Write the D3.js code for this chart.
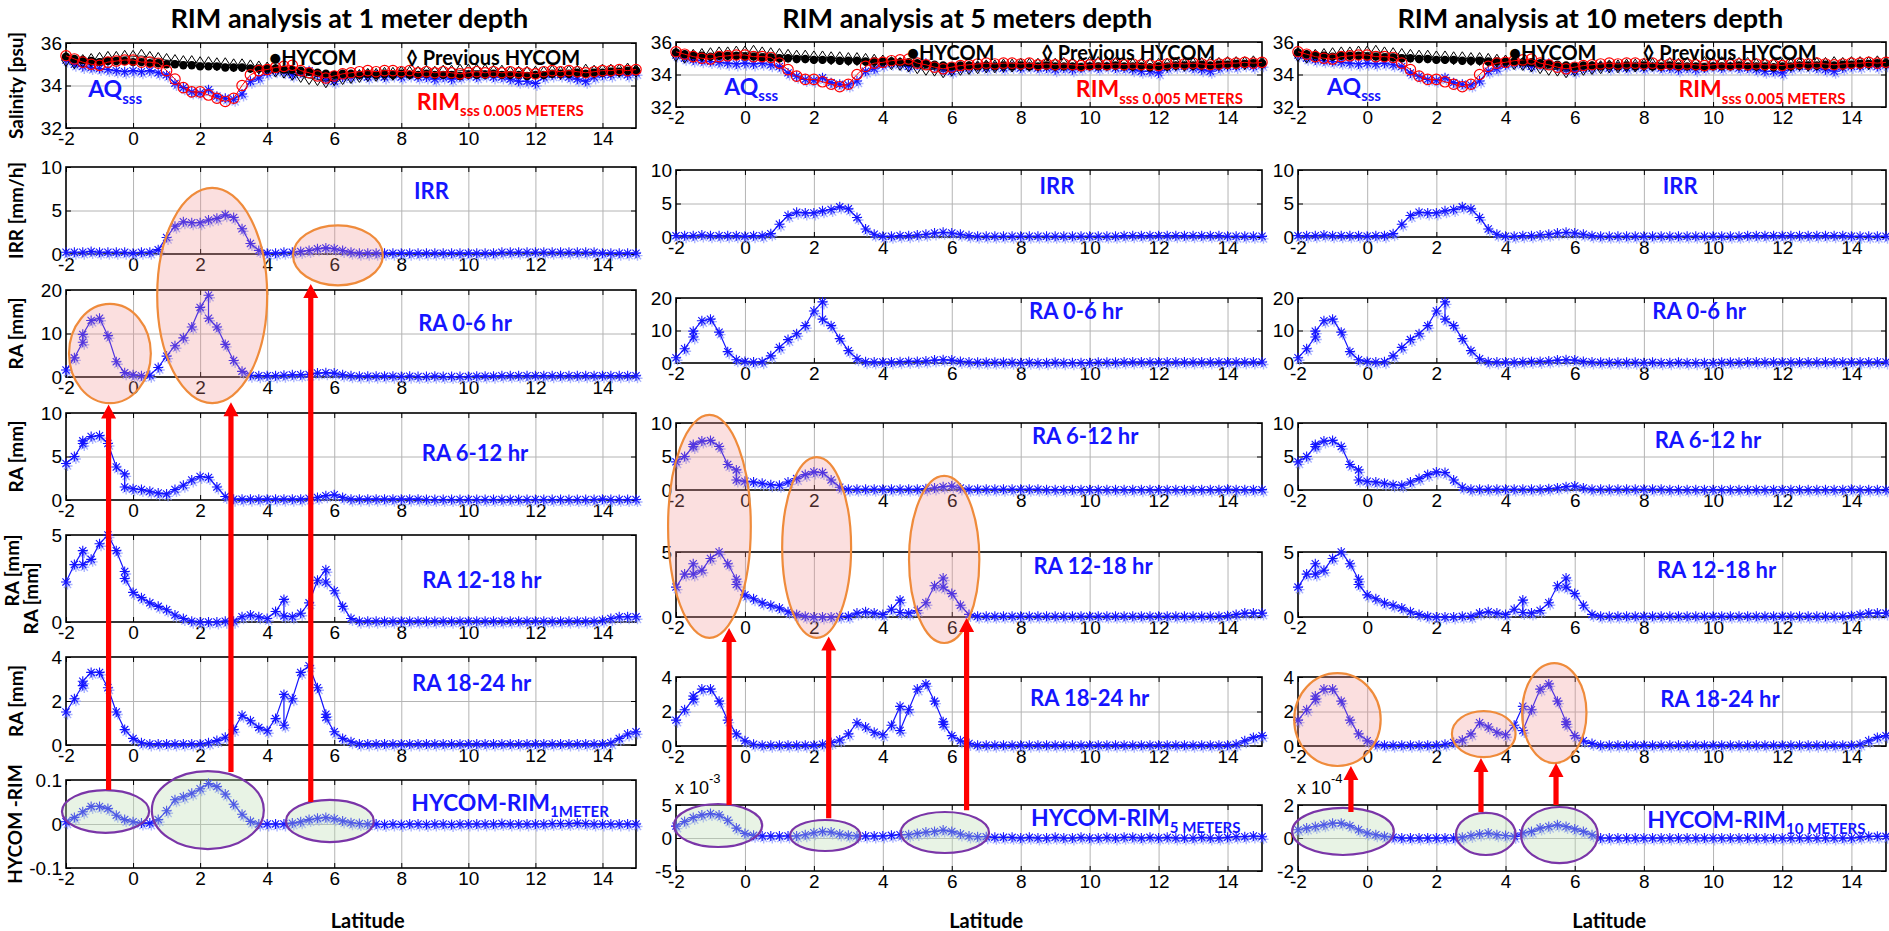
<!DOCTYPE html>
<html>
<head>
<meta charset="utf-8">
<script src="https://cdn.jsdelivr.net/npm/d3@7"></script>
<style>
  body { margin: 0; background: #fff; }
  svg { display: block; }
</style>
</head>
<body>
<svg id="fig" width="1889" height="931"></svg>
<script>
// ---------------------------------------------------------------------------
// Along-track latitude samples shared by every series
const LAT = [-2, -1.75, -1.5, -1.25, -1, -0.75, -0.5, -0.25, 0, 0.25, 0.5, 0.75, 1, 1.25, 1.5, 1.75,
  2, 2.25, 2.5, 2.75, 3, 3.25, 3.5, 3.75, 4, 4.25, 4.5, 4.75, 5, 5.25, 5.5, 5.75, 6, 6.25, 6.5, 6.75,
  7, 7.25, 7.5, 7.75, 8, 8.25, 8.5, 8.75, 9, 9.25, 9.5, 9.75, 10, 10.25, 10.5, 10.75, 11, 11.25, 11.5,
  11.75, 12, 12.25, 12.5, 12.75, 13, 13.25, 13.5, 13.75, 14, 14.25, 14.5, 14.75, 15];

const X_TICKS = [-2, 0, 2, 4, 6, 8, 10, 12, 14];

// Sea-surface salinity [psu]
const AQ_SSS = [35.2, 35.0, 34.9, 34.85, 34.8, 34.75, 34.7, 34.65, 34.7, 34.65,
  34.7, 34.6, 34.5, 34.1, 33.9, 33.7, 33.65, 33.8, 33.5, 33.4,
  33.35, 33.6, 34.2, 34.35, 34.6, 34.7, 34.65, 34.5, 34.6, 34.7,
  34.5, 34.3, 34.2, 34.4, 34.4, 34.5, 34.4, 34.5, 34.4, 34.5,
  34.4, 34.5, 34.4, 34.4, 34.3, 34.4, 34.3, 34.4, 34.5, 34.4,
  34.5, 34.4, 34.4, 34.3, 34.2, 34.2, 34.1, 34.4, 34.5, 34.5,
  34.4, 34.3, 34.2, 34.4, 34.5, 34.5, 34.6, 34.5, 34.6];
const RIM_SSS = [35.4, 35.25, 35.1, 35.0, 34.95, 35.1, 35.15, 35.2, 35.2, 35.1,
  35.1, 35.05, 34.7, 34.3, 33.9, 33.7, 33.7, 33.55, 33.4, 33.25,
  33.4, 34.0, 34.5, 34.7, 34.75, 34.85, 34.9, 34.95, 34.7, 34.6,
  34.45, 34.35, 34.45, 34.55, 34.6, 34.65, 34.7, 34.65, 34.7, 34.7,
  34.65, 34.7, 34.6, 34.65, 34.6, 34.65, 34.6, 34.55, 34.6, 34.65,
  34.6, 34.65, 34.6, 34.65, 34.6, 34.6, 34.55, 34.65, 34.7, 34.65,
  34.7, 34.65, 34.6, 34.65, 34.7, 34.7, 34.75, 34.7, 34.75];
const HYCOM_SSS = [35.35, 35.25, 35.2, 35.15, 35.1, 35.15, 35.15, 35.15, 35.1, 35.1,
  35.05, 35.05, 35.0, 35.0, 34.95, 34.95, 34.9, 34.9, 34.9, 34.85,
  34.85, 34.85, 34.8, 34.8, 34.8, 34.8, 34.75, 34.75, 34.7, 34.65,
  34.6, 34.55, 34.5, 34.55, 34.55, 34.5, 34.55, 34.5, 34.55, 34.5,
  34.55, 34.5, 34.5, 34.55, 34.5, 34.5, 34.5, 34.45, 34.5, 34.5,
  34.5, 34.55, 34.5, 34.5, 34.5, 34.45, 34.5, 34.5, 34.55, 34.55,
  34.55, 34.6, 34.55, 34.6, 34.6, 34.65, 34.65, 34.7, 34.7];
const PREV_HYCOM_SSS = [35.2, 35.1, 35.15, 35.2, 35.25, 35.3, 35.3, 35.35, 35.35, 35.4,
  35.3, 35.25, 35.2, 35.15, 35.1, 35.1, 35.05, 35.05, 35.0, 35.0,
  34.95, 34.95, 34.9, 34.85, 34.8, 34.7, 34.65, 34.55, 34.45, 34.35,
  34.3, 34.2, 34.3, 34.35, 34.4, 34.45, 34.5, 34.5, 34.55, 34.55,
  34.6, 34.6, 34.6, 34.65, 34.6, 34.65, 34.65, 34.7, 34.7, 34.7,
  34.7, 34.65, 34.65, 34.6, 34.6, 34.6, 34.6, 34.6, 34.65, 34.6,
  34.65, 34.65, 34.7, 34.65, 34.7, 34.7, 34.7, 34.75, 34.7];

// Instantaneous rain rate [mm/h]
const IRR = [0.2, 0.2, 0.2, 0.3, 0.2, 0.2, 0.2, 0.2, 0.1, 0.2,
  0.2, 0.5, 1.9, 3.2, 3.7, 3.6, 3.6, 3.9, 4.1, 4.5,
  4.2, 2.9, 1.2, 0.4, 0.1, 0.1, 0.2, 0.2, 0.3, 0.4,
  0.6, 0.7, 0.6, 0.4, 0.2, 0.1, 0.1, 0.1, 0.1, 0.1,
  0.1, 0.1, 0.1, 0.1, 0.1, 0.1, 0.1, 0.1, 0.1, 0.1,
  0.1, 0.1, 0.2, 0.2, 0.2, 0.2, 0.2, 0.2, 0.2, 0.2,
  0.2, 0.2, 0.2, 0.2, 0.1, 0.1, 0.1, 0.1, 0.1];

// Rain accumulation [mm] over the 24 h before the pass
const RA_0_6 = [1.6, 4.4, 8.0, 13.0, 13.5, 9.5, 3.5, 1.0, 0.5, 0.3,
  0.4, 2.2, 4.8, 7.2, 9.0, 11.5, 16.0, 18.8, 11.5, 7.5,
  3.8, 1.3, 0.4, 0.3, 0.3, 0.3, 0.4, 0.5, 0.5, 0.6,
  0.9, 1.0, 0.9, 0.5, 0.3, 0.2, 0.2, 0.2, 0.2, 0.2,
  0.1, 0.2, 0.1, 0.1, 0.2, 0.1, 0.1, 0.1, 0.1, 0.2,
  0.2, 0.2, 0.3, 0.3, 0.3, 0.3, 0.3, 0.3, 0.3, 0.3,
  0.3, 0.3, 0.3, 0.3, 0.3, 0.3, 0.3, 0.3, 0.3];
const RA_0_6_REPEAT = [[-1.5, 9.8], [2.25, 13.5]];

const RA_6_12 = [4.2, 5.0, 6.5, 7.3, 7.4, 6.5, 3.8, 3.0, 1.3, 1.2,
  1.0, 0.8, 0.7, 1.2, 1.7, 2.3, 2.7, 2.6, 1.5, 0.4,
  0.1, 0.1, 0.1, 0.1, 0.1, 0.1, 0.1, 0.1, 0.1, 0.2,
  0.3, 0.5, 0.6, 0.3, 0.1, 0.1, 0.1, 0.1, 0.1, 0.1,
  0.1, 0.1, 0.1, 0.05, 0.05, 0.05, 0.05, 0.05, 0.05, 0.05,
  0.05, 0.05, 0.05, 0.05, 0.05, 0.05, 0.05, 0.05, 0.05, 0.05,
  0.05, 0.05, 0.05, 0.05, 0.1, 0.05, 0.05, 0.05, 0.05];
const RA_6_12_REPEAT = [[-1.5, 6.8], [-0.25, 1.5]];

const RA_12_18 = [2.3, 3.3, 4.1, 3.6, 4.5, 5.0, 4.1, 2.9, 1.7, 1.4,
  1.1, 0.9, 0.7, 0.4, 0.2, 0.05, 0.0, 0.0, 0.0, 0.05,
  0.05, 0.3, 0.4, 0.3, 0.2, 0.6, 1.3, 0.3, 0.5, 1.1,
  2.4, 3.0, 1.8, 0.9, 0.2, 0.05, 0.05, 0.05, 0.05, 0.05,
  0.05, 0.05, 0.05, 0.05, 0.05, 0.05, 0.05, 0.05, 0.05, 0.05,
  0.05, 0.05, 0.05, 0.05, 0.05, 0.05, 0.05, 0.05, 0.05, 0.05,
  0.05, 0.05, 0.05, 0.05, 0.1, 0.2, 0.3, 0.3, 0.3];
const RA_12_18_REPEAT = [[-1.5, 3.3], [-0.25, 2.5], [4.5, 0.35], [5.75, 2.3]];

const RA_18_24 = [1.5, 2.1, 2.7, 3.3, 3.3, 2.6, 1.5, 0.7, 0.3, 0.1,
  0.05, 0.05, 0.05, 0.05, 0.05, 0.05, 0.05, 0.1, 0.2, 0.35,
  0.7, 1.35, 1.1, 0.8, 0.65, 1.2, 2.3, 2.1, 3.3, 3.6,
  2.6, 1.4, 0.6, 0.3, 0.15, 0.05, 0.05, 0.05, 0.05, 0.05,
  0.05, 0.05, 0.05, 0.05, 0.05, 0.05, 0.05, 0.05, 0.05, 0.05,
  0.05, 0.05, 0.05, 0.05, 0.05, 0.05, 0.05, 0.05, 0.05, 0.05,
  0.05, 0.05, 0.05, 0.05, 0.05, 0.1, 0.3, 0.5, 0.6];
const RA_18_24_REPEAT = [[-1.5, 2.9], [4.5, 0.9], [5.75, 1.25]];

// HYCOM minus RIM salinity at each depth (values in units of the axis multiplier)
const DIFF_1M = [0.005, 0.015, 0.028, 0.04, 0.04, 0.035, 0.02, 0.01, 0.005, 0.002,
  0.002, 0.01, 0.03, 0.055, 0.062, 0.07, 0.08, 0.092, 0.085, 0.068,
  0.045, 0.022, 0.006, 0.0, 0.0, 0.0, 0.0, 0.002, 0.005, 0.01,
  0.013, 0.015, 0.012, 0.007, 0.003, 0.001, 0.0, 0.0, -0.001, 0.0,
  -0.001, 0.0, 0.0, -0.001, 0.0, 0.0, -0.001, 0.0, 0.0, 0.0,
  0.0, 0.0, 0.001, 0.0, 0.0, 0.0, 0.0, 0.0, 0.001, 0.001,
  0.001, 0.002, 0.001, 0.0, 0.0, 0.0, 0.0, 0.0, 0.0];
const DIFF_5M = [1.8, 2.5, 3.1, 3.5, 3.7, 3.5, 2.7, 1.5, 0.7, 0.4,
  0.3, 0.3, 0.3, 0.3, 0.3, 0.5, 0.8, 1.0, 0.9, 0.6,
  0.4, 0.3, 0.3, 0.3, 0.3, 0.4, 0.5, 0.5, 0.7, 0.9,
  1.0, 1.2, 1.0, 0.6, 0.3, 0.2, 0.2, 0.1, 0.1, 0.1,
  0.0, 0.1, 0.0, 0.0, 0.1, 0.0, 0.0, 0.1, 0.0, 0.0,
  0.1, 0.0, 0.1, 0.1, 0.0, 0.1, 0.0, 0.1, 0.0, 0.0,
  0.0, 0.1, 0.0, 0.0, 0.1, 0.2, 0.2, 0.3, 0.2];
const DIFF_10M = [0.5, 0.6, 0.7, 0.8, 0.9, 0.9, 0.75, 0.5, 0.3, 0.2,
  0.1, 0.05, 0.0, 0.0, 0.0, 0.0, 0.0, 0.0, 0.0, 0.05,
  0.15, 0.25, 0.3, 0.2, 0.15, 0.1, 0.3, 0.4, 0.6, 0.7,
  0.8, 0.7, 0.55, 0.4, 0.2, 0.0, 0.0, 0.0, 0.0, 0.0,
  0.0, 0.0, 0.0, 0.0, 0.0, 0.0, 0.0, 0.0, 0.0, 0.0,
  0.0, 0.0, 0.0, 0.0, 0.0, 0.0, 0.0, 0.0, 0.0, 0.0,
  0.0, 0.0, 0.0, 0.0, 0.0, 0.05, 0.1, 0.1, 0.1];

const COLUMN_TITLES = ["RIM analysis at 1 meter depth", "RIM analysis at 5 meters depth", "RIM analysis at 10 meters depth"];
const DIFF_SERIES = [DIFF_1M, DIFF_5M, DIFF_10M];
const DIFF_DOMAINS = [[-0.1, 0.1], [-5, 5], [-2, 2]];
const DIFF_TICKS = [[-0.1, 0, 0.1], [-5, 0, 5], [-2, 0, 2]];
const DIFF_EXPONENTS = [null, "-3", "-4"];
const DIFF_SUBSCRIPTS = ["1METER", "5 METERS", "10 METERS"];

// ---------------------------------------------------------------------------
// Page layout (pixel frames of each column and of its seven stacked axes)
const LAYOUT = [
  { x0: 66, x1: 636, rows: [[43, 128], [167, 254], [290, 377], [413, 500], [535, 622], [657, 745], [780, 868]] },
  { x0: 676, x1: 1262, rows: [[42, 107], [170, 237], [298, 363], [423, 490], [552, 617], [677, 746], [805, 871]] },
  { x0: 1298, x1: 1886, rows: [[42, 107], [170, 237], [298, 363], [423, 490], [552, 617], [677, 746], [805, 871]] }
];

const BLUE = "#1515ff";
const LABEL_FONT = "Lato, 'Open Sans', sans-serif";
const TICK_FONT = "'Liberation Sans', Arial, sans-serif";
const TICK_SIZE = 19;

const svg = d3.select("#fig");

function track(vals, repeats) {
  const pts = [];
  LAT.forEach((lat, i) => {
    pts.push({ lat, v: vals[i] });
    (repeats || []).filter(r => r[0] === lat).forEach(r => pts.push({ lat: r[0], v: r[1] }));
  });
  return pts;
}

function starPath(s) {
  const d = s * 0.72;
  return `M${-s},0L${s},0M0,${-s}L0,${s}M${-d},${-d}L${d},${d}M${-d},${d}L${d},${-d}`;
}

// Rain panels share a common description
const PANELS = [
  null, // salinity handled separately
  { name: "IRR", domain: [0, 10], ticks: [0, 5, 10], series: track(IRR) },
  { name: "RA 0-6 hr", domain: [0, 20], ticks: [0, 10, 20], series: track(RA_0_6, RA_0_6_REPEAT) },
  { name: "RA 6-12 hr", domain: [0, 10], ticks: [0, 5, 10], series: track(RA_6_12, RA_6_12_REPEAT) },
  { name: "RA 12-18 hr", domain: [0, 5], ticks: [0, 5], series: track(RA_12_18, RA_12_18_REPEAT) },
  { name: "RA 18-24 hr", domain: [0, 4], ticks: [0, 2, 4], series: track(RA_18_24, RA_18_24_REPEAT) },
  null  // difference panel, per column
];

// Panel label anchor (latitude, value) per column and row
const LABEL_POS = [
  [null, [8.9, 7.2], [9.9, 12.4], [10.2, 5.4], [10.4, 2.4], [10.1, 2.8], [8.3, 0.048]],
  [null, [9.05, 7.6], [9.6, 16.0], [9.87, 8.0], [10.1, 3.9], [10.0, 2.8], [8.3, 3.0]],
  [null, [9.05, 7.6], [9.6, 16.0], [9.85, 7.4], [10.1, 3.6], [10.2, 2.7], [8.1, 1.1]]
];

// Salinity legend anchors per column: [HYCOM lat, Previous lat, legend value, AQ lat, AQ value, RIM lat, RIM value]
const SSS_TEXT = [
  [4.06, 8.15, 35.3, -1.34, 33.45, 8.46, 32.85],
  [4.7, 8.6, 35.3, -0.6, 32.75, 9.6, 32.6],
  [4.1, 7.97, 35.3, -1.16, 32.75, 9.0, 32.6]
];

// Latitude at which the column title and the x-axis title are centred
const TITLE_LAT = 6.45;
const XLABEL_LAT = 7.0;

const scales = LAYOUT.map(() => []);

// axis helper: keep only the tick lines
function linesOnly(a, color, width) {
  a.select(".domain").remove();
  a.selectAll("text").remove();
  a.selectAll("line").attr("stroke", color).attr("stroke-width", width);
}

function frame(g, x, y, ticksY) {
  const [r0, r1] = y.range();
  const top = Math.min(r0, r1), bottom = Math.max(r0, r1);
  const [l, r] = x.range();
  // grid
  g.append("g").attr("transform", `translate(0,${bottom})`)
    .call(d3.axisBottom(x).tickValues(X_TICKS.filter(t => t > -2)).tickSizeInner(-(bottom - top)).tickSizeOuter(0))
    .call(a => linesOnly(a, "#b4b4b4", 1));
  g.append("g").attr("transform", `translate(${l},0)`)
    .call(d3.axisLeft(y).tickValues(ticksY.filter(t => y(t) > top + 1 && y(t) < bottom - 1)).tickSizeInner(-(r - l)).tickSizeOuter(0))
    .call(a => linesOnly(a, "#b4b4b4", 1));
  // inward ticks with labels
  const bx = g.append("g").attr("transform", `translate(0,${bottom})`)
    .call(d3.axisBottom(x).tickValues(X_TICKS).tickSizeInner(-5).tickSizeOuter(0).tickPadding(4).tickFormat(d => String(d)));
  bx.select(".domain").remove();
  bx.selectAll("text").attr("font-family", TICK_FONT).attr("font-size", TICK_SIZE).attr("fill", "#000");
  bx.selectAll("line").attr("stroke", "#000");
  g.append("g").attr("transform", `translate(0,${top})`)
    .call(d3.axisTop(x).tickValues(X_TICKS).tickSizeInner(-5).tickSizeOuter(0))
    .call(a => linesOnly(a, "#000", 1));
  const ly = g.append("g").attr("transform", `translate(${l},0)`)
    .call(d3.axisLeft(y).tickValues(ticksY).tickSizeInner(-5).tickSizeOuter(0).tickPadding(4).tickFormat(d => String(d)));
  ly.select(".domain").remove();
  ly.selectAll("text").attr("font-family", TICK_FONT).attr("font-size", TICK_SIZE).attr("fill", "#000");
  ly.selectAll("line").attr("stroke", "#000");
  g.append("g").attr("transform", `translate(${r},0)`)
    .call(d3.axisRight(y).tickValues(ticksY).tickSizeInner(-5).tickSizeOuter(0))
    .call(a => linesOnly(a, "#000", 1));
  g.append("rect").attr("x", l).attr("y", top).attr("width", r - l).attr("height", bottom - top)
    .attr("fill", "none").attr("stroke", "#000").attr("stroke-width", 1.6);
}

function starSeries(g, x, y, pts, size) {
  const line = d3.line().x(p => x(p.lat)).y(p => y(p.v));
  // faint echo of each marker
  g.append("g").selectAll("path").data(pts).join("path")
    .attr("d", starPath(size))
    .attr("transform", p => `translate(${x(p.lat) + 1.5},${y(p.v) + 2.5})`)
    .attr("stroke", "#8c9aff").attr("stroke-width", 1.4).attr("fill", "none").attr("opacity", 0.75);
  g.append("path").attr("d", line(pts)).attr("fill", "none").attr("stroke", BLUE).attr("stroke-width", 1.2);
  g.append("g").selectAll("path").data(pts).join("path")
    .attr("d", starPath(size))
    .attr("transform", p => `translate(${x(p.lat)},${y(p.v)})`)
    .attr("stroke", BLUE).attr("stroke-width", 1.1).attr("fill", "none");
}

function subText(g, xpos, ypos, main, sub, color, mainSize, subSize) {
  const t = g.append("text").attr("x", xpos).attr("y", ypos)
    .attr("font-family", LABEL_FONT).attr("font-weight", 700).attr("fill", color)
    .attr("font-size", mainSize).text(main);
  if (sub) t.append("tspan").attr("font-size", subSize).attr("dy", mainSize * 0.28).text(sub);
  return t;
}

LAYOUT.forEach((col, ci) => {
  const g = svg.append("g");
  const x = d3.scaleLinear().domain([-2, 15]).range([col.x0, col.x1]);

  // column title
  g.append("text").attr("x", x(TITLE_LAT)).attr("y", 28)
    .attr("text-anchor", "middle").attr("font-family", LABEL_FONT).attr("font-weight", 700)
    .attr("font-size", 27).attr("fill", "#000").text(COLUMN_TITLES[ci]);

  col.rows.forEach((rw, ri) => {
    let domain, ticks;
    if (ri === 0) { domain = [32, 36]; ticks = [32, 34, 36]; }
    else if (ri === 6) { domain = DIFF_DOMAINS[ci]; ticks = DIFF_TICKS[ci]; }
    else { domain = PANELS[ri].domain; ticks = PANELS[ri].ticks; }
    const y = d3.scaleLinear().domain(domain).range([rw[1], rw[0]]);
    scales[ci][ri] = { x, y };
    frame(g, x, y, ticks);

    if (ri === 0) {
      // salinity products
      const aq = track(AQ_SSS), rim = track(RIM_SSS), hy = track(HYCOM_SSS), prev = track(PREV_HYCOM_SSS);
      starSeries(g, x, y, aq, 5);
      const line = d3.line().x(p => x(p.lat)).y(p => y(p.v));
      g.append("path").attr("d", line(prev)).attr("fill", "none").attr("stroke", "#000").attr("stroke-width", 0.8);
      g.append("g").selectAll("path").data(prev).join("path")
        .attr("d", "M0,-6.5L4.2,0L0,6.5L-4.2,0Z")
        .attr("transform", p => `translate(${x(p.lat)},${y(p.v)})`)
        .attr("fill", "none").attr("stroke", "#000").attr("stroke-width", 1);
      g.append("path").attr("d", line(hy)).attr("fill", "none").attr("stroke", "#000").attr("stroke-width", 1);
      g.append("g").selectAll("circle").data(hy).join("circle")
        .attr("cx", p => x(p.lat)).attr("cy", p => y(p.v)).attr("r", 4.2).attr("fill", "#000");
      g.append("path").attr("d", line(rim)).attr("fill", "none").attr("stroke", "#ff0000").attr("stroke-width", 1);
      g.append("g").selectAll("circle").data(rim).join("circle")
        .attr("cx", p => x(p.lat)).attr("cy", p => y(p.v)).attr("r", 5.2)
        .attr("fill", "none").attr("stroke", "#ff0000").attr("stroke-width", 1.2);

      const s = SSS_TEXT[ci];
      g.append("text").attr("x", x(s[0])).attr("y", y(s[2]) + 7)
        .attr("font-family", LABEL_FONT).attr("font-weight", 700).attr("font-size", 20).attr("fill", "#000")
        .text("\u25CFHYCOM");
      g.append("text").attr("x", x(s[1])).attr("y", y(s[2]) + 7)
        .attr("font-family", LABEL_FONT).attr("font-weight", 700).attr("font-size", 20).attr("fill", "#000")
        .text("\u25CA Previous HYCOM");
      subText(g, x(s[3]), y(s[4]), "AQ", "sss", BLUE, 23, 15);
      subText(g, x(s[5]), y(s[6]), "RIM", "sss 0.005 METERS", "#ff0000", 23, 15);
    } else if (ri === 6) {
      starSeries(g, x, y, track(DIFF_SERIES[ci]), 5);
      const lp = LABEL_POS[ci][ri];
      subText(g, x(lp[0]), y(lp[1]) + 8, "HYCOM-RIM", DIFF_SUBSCRIPTS[ci], BLUE, 23, 15);
      if (DIFF_EXPONENTS[ci]) {
        const t = g.append("text").attr("x", col.x0 - 1).attr("y", rw[0] - 11)
          .attr("font-family", TICK_FONT).attr("font-size", 18).attr("fill", "#000").text("x 10");
        t.append("tspan").attr("font-size", 13).attr("dy", -11).text(DIFF_EXPONENTS[ci]);
      }
    } else {
      starSeries(g, x, y, PANELS[ri].series, 5);
      const lp = LABEL_POS[ci][ri];
      g.append("text").attr("x", x(lp[0])).attr("y", y(lp[1]) + 8).attr("text-anchor", "middle")
        .attr("font-family", LABEL_FONT).attr("font-weight", 700).attr("font-size", 22).attr("fill", BLUE)
        .text(PANELS[ri].name);
    }
  });

  g.append("text").attr("x", x(XLABEL_LAT)).attr("y", 928).attr("text-anchor", "middle")
    .attr("font-family", LABEL_FONT).attr("font-weight", 700).attr("font-size", 20).attr("fill", "#000")
    .text("Latitude");
});

// axis titles on the first column
const YLABELS = [
  { text: "Salinity [psu]", x: 16, row: 0 },
  { text: "IRR [mm/h]", x: 16, row: 1 },
  { text: "RA [mm]", x: 16, row: 2 },
  { text: "RA [mm]", x: 16, row: 3 },
  { text: "RA [mm]", x: 12, row: 4, shift: -8 },
  { text: "RA [mm]", x: 31, row: 4, shift: 20 },
  { text: "RA [mm]", x: 16, row: 5 },
  { text: "HYCOM -RIM", x: 15, row: 6 }
];
YLABELS.forEach(lb => {
  const rw = LAYOUT[0].rows[lb.row];
  const cy = (rw[0] + rw[1]) / 2 + (lb.shift || 0);
  svg.append("text").attr("transform", `translate(${lb.x},${cy}) rotate(-90)`)
    .attr("text-anchor", "middle").attr("dy", "0.35em")
    .attr("font-family", LABEL_FONT).attr("font-weight", 700).attr("font-size", 19).attr("fill", "#000")
    .text(lb.text);
});

// ---------------------------------------------------------------------------
// Highlighted rain events and the matching salinity differences
// [column, centre latitude, latitude half-width, [row, value] top edge, [row, value] bottom edge]
const RAIN_RINGS = [
  [0, 6.11, 1.34, [1, 3.3], [1, -3.6]],
  [0, 2.36, 1.64, [1, 7.6], [2, -6.0]],
  [0, -0.69, 1.22, [2, 16.8], [2, -6.0]],
  [1, -1.03, 1.2, [3, 11.2], [4, -1.6]],
  [1, 2.08, 1.0, [3, 4.9], [4, -1.6]],
  [1, 5.78, 1.02, [3, 2.1], [4, -2.0]],
  [2, -0.86, 1.25, [5, 4.23], [5, -1.16]],
  [2, 3.37, 0.92, [5, 2.03], [5, -0.64]],
  [2, 5.41, 0.93, [5, 4.81], [5, -0.99]]
];
const DIFF_RINGS = [
  [0, -0.82, 1.30, [6, 0.077], [6, -0.02]],
  [0, 2.23, 1.67, [6, 0.12], [6, -0.057]],
  [0, 5.87, 1.31, [6, 0.055], [6, -0.041]],
  [1, -0.78, 1.28, [6, 5.15], [6, -1.36]],
  [1, 2.33, 1.02, [6, 2.73], [6, -1.97]],
  [1, 5.8, 1.28, [6, 3.94], [6, -2.27]],
  [2, -0.70, 1.47, [6, 1.82], [6, -1.03]],
  [2, 3.43, 0.86, [6, 1.52], [6, -1.03]],
  [2, 5.56, 1.11, [6, 1.88], [6, -1.52]]
];
// [column, latitude, [row, value] tail, [row, value] head]
const LINK_ARROWS = [
  [0, -0.73, [6, 0.077], [2, -6.3]],
  [0, 2.92, [6, 0.118], [2, -5.8]],
  [0, 5.30, [6, 0.05], [1, -3.45]],
  [1, -0.46, [6, 5.0], [4, -0.85]],
  [1, 2.43, [6, 3.0], [4, -1.5]],
  [1, 6.43, [6, 4.2], [4, -0.08]],
  [2, -0.47, [6, 1.58], [5, -1.16]],
  [2, 3.29, [6, 1.58], [5, -0.7]],
  [2, 5.46, [6, 2.0], [5, -0.99]]
];

const overlay = svg.append("g");
function ring(spec, stroke, fill) {
  const [ci, lat, half, t, b] = spec;
  const x = scales[ci][0].x;
  const yt = scales[ci][t[0]].y(t[1]);
  const yb = scales[ci][b[0]].y(b[1]);
  overlay.append("ellipse")
    .attr("cx", x(lat)).attr("cy", (yt + yb) / 2)
    .attr("rx", x(lat + half) - x(lat)).attr("ry", (yb - yt) / 2)
    .attr("fill", fill).attr("stroke", stroke).attr("stroke-width", 2.2);
}
RAIN_RINGS.forEach(r => ring(r, "#ef8b3b", "rgba(240,140,140,0.28)"));
DIFF_RINGS.forEach(r => ring(r, "#7a35a8", "rgba(190,220,180,0.35)"));

LINK_ARROWS.forEach(([ci, lat, tail, head]) => {
  const x = scales[ci][0].x(lat);
  const y0 = scales[ci][tail[0]].y(tail[1]);
  const y1 = scales[ci][head[0]].y(head[1]);
  const hl = 14, hw = 7.5, sw = 2.6;
  overlay.append("path")
    .attr("d", `M${x - sw},${y0}L${x - sw},${y1 + hl}L${x - hw},${y1 + hl}L${x},${y1}L${x + hw},${y1 + hl}L${x + sw},${y1 + hl}L${x + sw},${y0}Z`)
    .attr("fill", "#ff0000");
});
</script>
</body>
</html>
